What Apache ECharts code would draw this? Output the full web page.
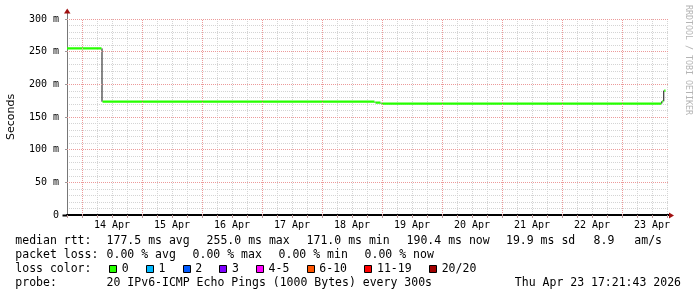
<!DOCTYPE html>
<html><head><meta charset="utf-8">
<script src="https://cdn.jsdelivr.net/npm/echarts@6/dist/echarts.min.js"></script>
<style>html,body{margin:0;padding:0;background:#fff}#c{width:697px;height:297px}</style>
</head><body><div id="c"></div>
<script>
// ---- data (time in hours since 14 Apr 00:00) ----
const segStartHours = [-6, 8.0, 117.2, 119.6, 231.9, 232.7];
const segMedianMs   = [255.0, 173.4, 171.9, 170.4, 174.0, 190.4];
const lastHour = 233.4;
const dayLabels = ['14 Apr','15 Apr','16 Apr','17 Apr','18 Apr','19 Apr','20 Apr','21 Apr','22 Apr','23 Apr'];
const yTickValues = [0, 50, 100, 150, 200, 250, 300];

const rttValues = ['177.5', '255.0', '171.0', '190.4'];
const statNames = ['avg', 'max', 'min', 'now'];
const rttSd = '19.9';
const rttAmps = '8.9';
const lossValues = ['0.00', '0.00', '0.00', '0.00'];
const lossClasses = ['0', '1', '2', '3', '4-5', '6-10', '11-19', '20/20'];
const lossColors = ['#26ff00', '#00b8ff', '#0059ff', '#7e00ff', '#ff00ff', '#ff5500', '#ff0000', '#a10000'];
const probeText = '20 IPv6-ICMP Echo Pings (1000 Bytes) every 300s';
const stampText = 'Thu Apr 23 17:21:43 2026';
const watermark = 'RRDTOOL / TOBI OETIKER';

// ---- layout ----
const G = {left: 67, top: 19, width: 602, height: 196, outerBoundsMode: 'none', containLabel: false};
const XMIN = -6, XMAX = 234.8;
const MONO = 'DejaVu Sans Mono';
const GRAY = '#d4d4d4', RED = '#ec9a9a', NONE = 'rgba(0,0,0,0)';

// black vertical joins between segments
const blackData = [];
for (let i = 1; i < segStartHours.length; i++) {
  const h = segStartHours[i];
  blackData.push([h, segMedianMs[i - 1]], [h, segMedianMs[i]], [h, '-']);
}
// green horizontal segments with gaps
const GAP = 0.2;
const greenData = [];
segStartHours.forEach((h, i) => {
  const hasNext = i + 1 < segStartHours.length;
  const end = hasNext ? segStartHours[i + 1] : lastHour;
  const s = i === 0 ? h : h + GAP;
  const e = hasNext ? end - GAP : end;
  greenData.push([s, segMedianMs[i]], [e, segMedianMs[i]], [e, '-']);
});
// major grid (day boundaries & 50 m steps)
const majorLines = dayLabels.map((d, i) => ({xAxis: i * 24}))
  .concat(yTickValues.filter(v => v > 0).map(v => ({yAxis: v})));

// ---- legend / text graphics ----
const g = [];
function txt(x, y, s, opt) {
  g.push({type: 'text', x: x, y: y, silent: true,
    style: Object.assign({text: s, fill: '#000', font: '11.5px "' + MONO + '"', textVerticalAlign: 'middle'}, opt || {})});
}
const L1 = 241, L2 = 255, L3 = 269, L4 = 283;
const COL = 106.6;
txt(15.3, L1, 'median rtt:');
rttValues.forEach((v, i) => txt(COL + 100 * i, L1, v + ' ms ' + statNames[i]));
txt(506, L1, rttSd + ' ms sd');
txt(593.6, L1, rttAmps);
txt(634.3, L1, 'am/s');
txt(15.3, L2, 'packet loss:');
lossValues.forEach((v, i) => txt(COL + 86 * i, L2, v + ' % ' + statNames[i]));
txt(15.3, L3, 'loss color:');
let bx = 109.3;
lossClasses.forEach((c, i) => {
  g.push({type: 'rect', silent: true, shape: {x: Math.round(bx) + 0.5, y: 265.5, width: 7, height: 7},
    style: {fill: lossColors[i], stroke: '#000', lineWidth: 1}});
  txt(bx + 12.5, L3, c);
  bx += 36.7 + 7 * (c.length - 1);
});
txt(15.3, L4, 'probe:');
txt(COL, L4, probeText);
txt(681, L4, stampText, {textAlign: 'right'});
// watermark
g.push({type: 'text', x: 688, y: 5, rotation: -Math.PI / 2, silent: true,
  style: {text: watermark, fill: '#b4b4b4', font: '8.3px "' + MONO + '"', textVerticalAlign: 'middle', textAlign: 'left'}});
// axis extensions & arrows
const bottom = G.top + G.height, right = G.left + G.width;
g.push({type: 'line', silent: true, z: 10, shape: {x1: G.left + 0.5, y1: G.top, x2: G.left + 0.5, y2: 12}, style: {stroke: '#777', lineWidth: 1}});
g.push({type: 'line', silent: true, z: 10, shape: {x1: 62.5, y1: bottom + 0.5, x2: G.left, y2: bottom + 0.5}, style: {stroke: '#000', lineWidth: 2}});
g.push({type: 'polygon', silent: true, z: 10, shape: {points: [[64, 13.5], [70.5, 13.5], [67.25, 8.5]]}, style: {fill: '#a01010'}});
g.push({type: 'polygon', silent: true, z: 10, shape: {points: [[right, 212.5], [right, 218.5], [right + 5, 215.5]]}, style: {fill: '#a01010'}});

const chart = echarts.init(document.getElementById('c'), null, {renderer: 'canvas'});
chart.setOption({
  animation: false,
  backgroundColor: '#fff',
  grid: G,
  xAxis: {
    type: 'value', min: XMIN, max: XMAX, interval: 6,
    axisLine: {show: true, onZero: false, lineStyle: {color: '#000', width: 2}},
    axisTick: {show: true, length: 3, lineStyle: {color: '#b99'}},
    axisLabel: {
      margin: 5, color: '#000', fontFamily: MONO, fontSize: 10,
      formatter: v => {
        const r = Math.round(v);
        if (Math.abs(v - r) > 1e-6) return '';
        if (((r % 24) + 24) % 24 !== 12) return '';
        return dayLabels[(r - 12) / 24] || '';
      }
    },
    splitLine: {show: true, showMinLine: false, showMaxLine: false,
      lineStyle: {color: [NONE, GRAY, GRAY, GRAY], type: 'dotted', width: 1}}
  },
  yAxis: {
    type: 'value', min: 0, max: 300, interval: 50,
    name: 'Seconds', nameLocation: 'middle', nameGap: 50,
    nameTextStyle: {fontFamily: 'DejaVu Sans', fontSize: 11, color: '#000'},
    axisLine: {show: true, onZero: false, lineStyle: {color: '#777', width: 1}},
    axisTick: {show: true, length: 2, lineStyle: {color: '#999'}},
    axisLabel: {margin: 8, color: '#000', fontFamily: MONO, fontSize: 10,
      formatter: v => (yTickValues.indexOf(v) >= 0 ? (v === 0 ? '0' : v + ' m') : '')},
    splitLine: {show: false},
    minorTick: {show: false, splitNumber: 5},
    minorSplitLine: {show: true, lineStyle: {color: GRAY, type: 'dotted', width: 1}}
  },
  series: [
    {type: 'line', data: [], silent: true, z: 1,
      markLine: {silent: true, symbol: 'none', label: {show: false}, animation: false,
        lineStyle: {color: RED, type: 'dotted', width: 1}, data: majorLines}},
    {type: 'line', data: blackData, symbol: 'none', silent: true, z: 2, connectNulls: false,
      lineStyle: {color: '#111', width: 1}},
    {type: 'line', data: greenData, symbol: 'none', silent: true, z: 3, connectNulls: false,
      lineStyle: {color: '#26ff00', width: 2.2, cap: 'butt'}}
  ],
  graphic: g
});
</script>
</body></html>
